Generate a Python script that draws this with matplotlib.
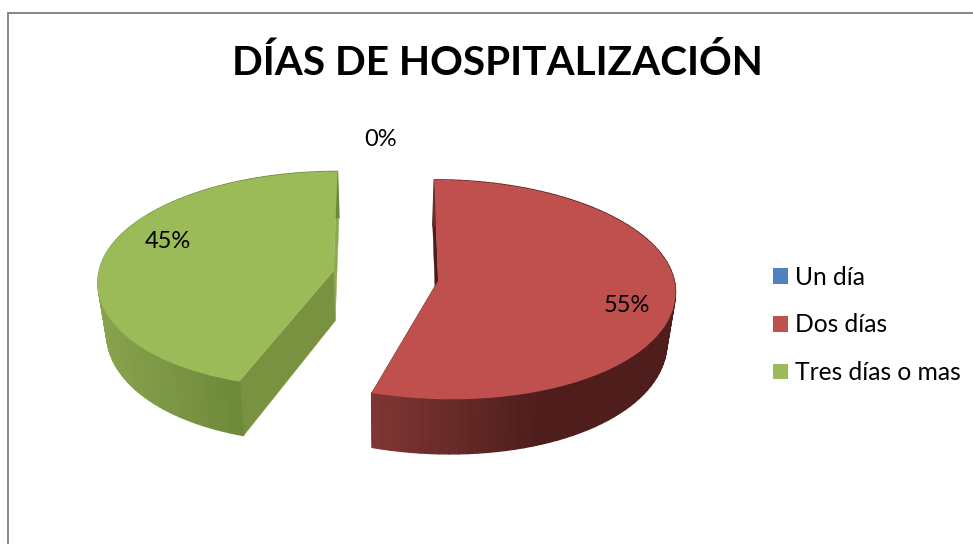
import numpy as np
import matplotlib
matplotlib.use("Agg")
import matplotlib.pyplot as plt
from matplotlib.collections import PolyCollection
from matplotlib.colors import LinearSegmentedColormap, Normalize
from matplotlib.patches import Polygon
from matplotlib.transforms import Transform

categories = ["Un día", "Dos días", "Tres días o mas"]
values = [0, 55, 45]
title = "DÍAS DE HOSPITALIZACIÓN"

colors = ["#4f81bd", "#c0504d", "#9bbb59"]
cut_colors = [None, "#4a1c1a", "#8eaa50"]
sliver_colors = [None, "#4a1c1a", "#789240"]
rim_stops = [
    None,
    ((369, 530), ["#7f3634", "#4f1e1c"]),
    ((100, 240), ["#8aa54e", "#6e883b"]),
]
centers = [(0, 0), (0.222, -0.06), (-0.222, 0.03)]
bends = [0, 9, -13]
label_pos = [(381, 139), (627, 306), (168, 242)]

plt.rcParams["font.family"] = ["Lato", "DejaVu Sans"]

# fake 3d: flat pie coords -> pixels, back of the pie is smaller
CX, CY = 385.7, 274.2
RX, RY = 235, 108
PERSP = 0.08
DEPTH = 50
SHRINK = 0.97


def project(pts, center=(0, 0), bend=0):
    pts = np.asarray(pts, dtype=float)
    w = 1 + PERSP * pts[:, 1]
    # front of the slice leans outwards a bit, as in the office 3d pie
    lean = bend * np.minimum(pts[:, 1] - center[1], 0) ** 2
    return np.column_stack([CX + RX * pts[:, 0] / w + lean, CY - RY * pts[:, 1] / w])


def project_low(pts, center=(0, 0), bend=0):
    pts = np.asarray(pts, dtype=float)
    w = 1 + PERSP * pts[:, 1]
    top = project(pts, center, bend)
    return np.column_stack([CX + (top[:, 0] - CX) * SHRINK, top[:, 1] + DEPTH / w])


class PieProjection(Transform):
    input_dims = 2
    output_dims = 2

    def __init__(self, center, bend):
        super().__init__()
        self.center = center
        self.bend = bend

    def transform_non_affine(self, values):
        return project(values, self.center, self.bend)


fig = plt.figure(figsize=(9.73, 5.44), dpi=100)
ax = fig.add_axes([0, 0, 1, 1])

wedges, _, autotexts = ax.pie(values, colors=colors, startangle=90, counterclock=False,
                              autopct="%.0f%%", pctdistance=0.8,
                              textprops={"fontsize": 17, "color": "black"})
ax.set_aspect("auto")
ax.set_xlim(0, 973)
ax.set_ylim(544, 0)
ax.axis("off")

for i, wedge in enumerate(wedges):
    wedge.set_center(centers[i])
    wedge.set_transform(PieProjection(centers[i], bends[i]) + ax.transData)
    wedge.set_zorder(5)
    wedge.set_linewidth(0)
    if values[i] == 0:
        continue

    c = np.array(centers[i])
    a1, a2 = np.radians(wedge.theta1), np.radians(wedge.theta2)
    ends = [c + [np.cos(a), np.sin(a)] for a in (a1, a2)]
    tip = c.reshape(1, 2)
    # the two cut faces of the slice
    for end, col in zip(ends, (cut_colors[i], sliver_colors[i])):
        end = end.reshape(1, 2)
        quad = np.vstack([project(end, c, bends[i]), project(tip, c, bends[i]),
                          project_low(tip, c, bends[i]), project_low(end, c, bends[i])])
        ax.add_patch(Polygon(quad, closed=True, fc=col, ec=col, lw=0.3, zorder=2))

    # outer rim, thin quads so the shading can change along it
    th = np.linspace(a1, a2, 90)
    ring = c + np.column_stack([np.cos(th), np.sin(th)])
    hi, lo = project(ring, c, bends[i]), project_low(ring, c, bends[i])
    quads = [[hi[j], hi[j + 1], lo[j + 1], lo[j]] for j in range(len(th) - 1)]
    (x0, x1), stops = rim_stops[i]
    cmap = LinearSegmentedColormap.from_list("rim", stops)
    shade = cmap(Normalize(x0, x1)(lo[:-1, 0]).clip(0, 1))
    ax.add_collection(PolyCollection(quads, facecolors=shade, edgecolors=shade,
                                     linewidths=1.0, zorder=3))

for text, pos in zip(autotexts, label_pos):
    text.set_position(pos)
    text.set_ha("center")
    text.set_va("center")
    text.set_zorder(6)

ax.text(497.5, 63, title, fontsize=29.2, fontweight="bold", ha="center", va="center", color="black")

# chart area border, runs off the right and bottom of the picture
ax.plot([7.5, 7.5, 973], [544, 12.5, 12.5], color="#868686", lw=1.4, clip_on=False,
        solid_joinstyle="miter", zorder=1)

ax.legend(wedges, categories, loc="center left", bbox_to_anchor=(773 / 973, 1 - 325 / 544),
          frameon=False, fontsize=17.7, handlelength=0.61, handleheight=0.61,
          handletextpad=0.3, labelspacing=1.0, borderpad=0, borderaxespad=0)

fig.savefig("out.png", dpi=100)
